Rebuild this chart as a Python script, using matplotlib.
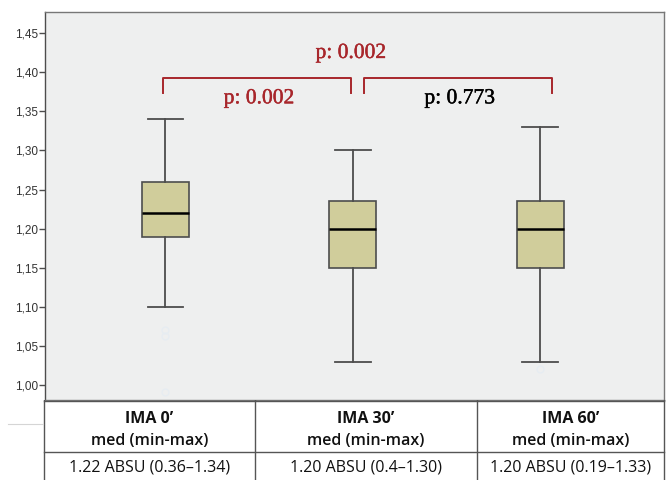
import matplotlib
matplotlib.use("Agg")
import matplotlib.pyplot as plt
import matplotlib.patheffects as pe

# --- dane ---
grupy = ["IMA 0\u2019", "IMA 30\u2019", "IMA 60\u2019"]
wasy_min = [1.10, 1.03, 1.03]
q1 = [1.19, 1.15, 1.15]
mediany = [1.22, 1.20, 1.20]
q3 = [1.26, 1.235, 1.235]
wasy_max = [1.34, 1.30, 1.33]
odstajace = [[1.070, 1.063, 0.991], [], [1.02]]

yticks = [1.00, 1.05, 1.10, 1.15, 1.20, 1.25, 1.30, 1.35, 1.40, 1.45]
ytick_labels = ["1,00", "1,05", "1,10", "1,15", "1,20", "1,25", "1,30", "1,35", "1,40", "1,45"]

p_teksty = ["p: 0.002", "p: 0.773", "p: 0.002"]
tabela_naglowki = ["med (min-max)", "med (min-max)", "med (min-max)"]
tabela_wartosci = ["1.22 ABSU (0.36\u20131.34)", "1.20 ABSU (0.4\u20131.30)", "1.20 ABSU (0.19\u20131.33)"]

CZERWONY = "#a8262b"
SZARY = "#4d4d4d"

fig = plt.figure(figsize=(6.66, 4.8), dpi=100)
ax = fig.add_axes([45 / 666, 80 / 480, 619 / 666, 388 / 480])
ax.set_facecolor("#eeefef")

stats = []
for i in range(3):
    stats.append({"med": mediany[i], "q1": q1[i], "q3": q3[i],
                  "whislo": wasy_min[i], "whishi": wasy_max[i],
                  "fliers": odstajace[i], "label": grupy[i]})

ax.bxp(stats, positions=[1, 2, 3], widths=0.25, patch_artist=True,
       boxprops=dict(facecolor="#d0cd9b", edgecolor=SZARY, linewidth=1.2),
       medianprops=dict(color="black", linewidth=1.8),
       whiskerprops=dict(color=SZARY, linewidth=1.3),
       capprops=dict(color=SZARY, linewidth=1.3),
       capwidths=0.19,
       flierprops=dict(marker="o", markersize=5, markerfacecolor="none",
                       markeredgecolor="#e6ecf2", markeredgewidth=0.9))

ax.set_xlim(0.358, 3.66)
ax.set_ylim(0.981, 1.477)
ax.set_yticks(yticks)
ax.set_yticklabels(ytick_labels, fontsize=8.5, color="#333333", family="Liberation Sans")
ax.set_xticks([])
ax.tick_params(axis="y", direction="out", length=4, width=1, color=SZARY, pad=1)
for s in ax.spines.values():
    s.set_color("#777777")
    s.set_linewidth(1.0)
ax.spines["left"].set_color(SZARY)


def klamra(x1, x2, y_gora, y_dol):
    ax.plot([x1, x1, x2, x2], [y_dol, y_gora, y_gora, y_dol], color=CZERWONY,
            linewidth=1.4, solid_joinstyle="round")


klamra(0.99, 1.99, 1.393, 1.373)
klamra(2.06, 3.06, 1.393, 1.373)


def p_tekst(x, y, s, kolor):
    ax.text(x, y, s, ha="center", va="center", fontsize=15.5, color=kolor,
            family="Liberation Serif",
            path_effects=[pe.withStroke(linewidth=0.3, foreground=kolor)])


p_tekst(1.50, 1.366, p_teksty[0], CZERWONY)
p_tekst(2.57, 1.366, p_teksty[1], "black")
p_tekst(1.99, 1.424, p_teksty[2], CZERWONY)

# --- tabela pod wykresem ---
tab = fig.add_axes([0, 0, 1, 80 / 480])
tab.set_xlim(0, 666)
tab.set_ylim(480, 400)
tab.axis("off")
kolumny = [44, 255, 477, 664]
linia = dict(color="#555555", linewidth=1.0)
for x in kolumny:
    tab.plot([x, x], [400, 480], **linia)
tab.plot([44, 664], [400.5, 400.5], **linia)
tab.plot([44, 664], [452, 452], **linia)
tab.plot([8, 43], [424, 424], color="#d5d5d5", linewidth=0.8)

for i in range(3):
    xc = (kolumny[i] + kolumny[i + 1]) / 2
    tab.text(xc, 419, grupy[i], ha="center", va="center", fontsize=11.5,
             fontweight="bold", family="Open Sans", color="#111111")
    tab.text(xc, 441, tabela_naglowki[i], ha="center", va="center", fontsize=11.5,
             fontweight="semibold", family="Open Sans", color="#111111")
    tab.text(xc, 467, tabela_wartosci[i], ha="center", va="center", fontsize=11.5,
             family="Open Sans", color="#111111")

fig.savefig("out.png", dpi=100)
